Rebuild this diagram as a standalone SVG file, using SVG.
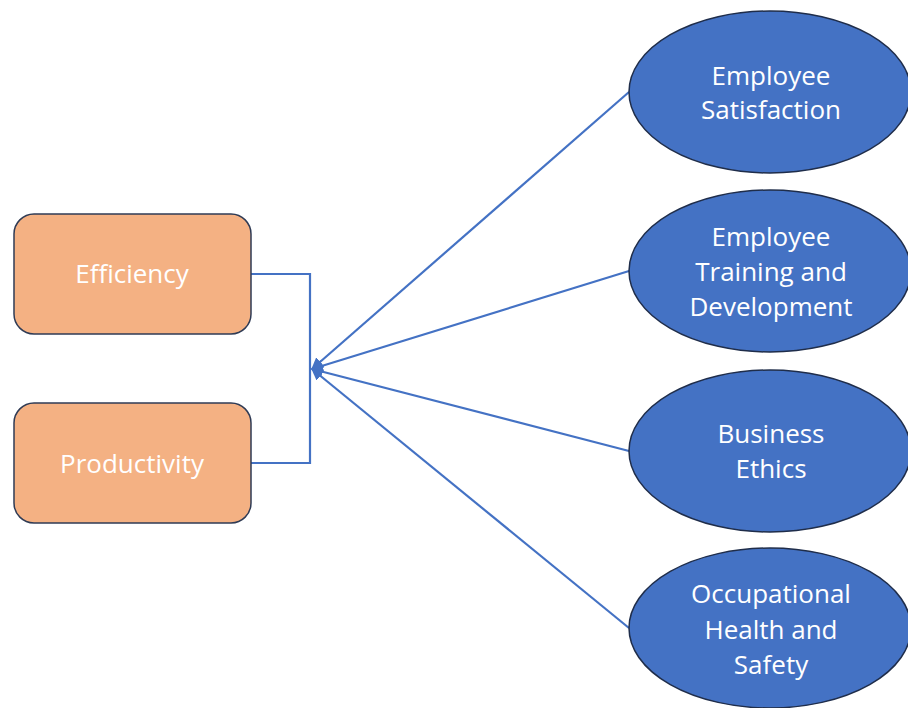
<svg xmlns="http://www.w3.org/2000/svg" width="908" height="708" viewBox="0 0 908 708">
  <style>
    .box { fill: #F4B183; stroke: #2F3B55; stroke-width: 1.5; }
    .oval { fill: #4472C4; stroke: #1F2D4A; stroke-width: 1.5; }
    .label { font-family: "Open Sans", "Liberation Sans", sans-serif; font-size: 26px; fill: #FFFFFF; text-anchor: middle; }
    .link { fill: none; stroke: #4472C4; stroke-width: 2.2; }
  </style>
  <defs>
    <marker id="arrow" viewBox="0 0 10 10" refX="9" refY="5" markerWidth="5.5" markerHeight="5.5" orient="auto" markerUnits="strokeWidth">
      <path d="M0,0 L10,5 L0,10 Z" fill="#4472C4"/>
    </marker>
  </defs>
  <rect width="908" height="708" fill="#FFFFFF"/>

  <g id="connectors">
    <path class="link" d="M251,274 H310 V463 H251"/>
    <line class="link" x1="629" y1="92" x2="312" y2="369" marker-end="url(#arrow)"/>
    <line class="link" x1="629" y1="271" x2="312" y2="369" marker-end="url(#arrow)"/>
    <line class="link" x1="629" y1="451" x2="312" y2="369" marker-end="url(#arrow)"/>
    <line class="link" x1="629" y1="628" x2="312" y2="369" marker-end="url(#arrow)"/>
  </g>

  <g id="efficiency">
    <rect class="box" x="14" y="214" width="237" height="120" rx="20"/>
    <text class="label" x="132" y="283">Efficiency</text>
  </g>
  <g id="productivity">
    <rect class="box" x="14" y="403" width="237" height="120" rx="20"/>
    <text class="label" x="132" y="473">Productivity</text>
  </g>

  <g id="employee-satisfaction">
    <ellipse class="oval" cx="770" cy="92" rx="141" ry="81"/>
    <text class="label" x="771" y="85">Employee</text>
    <text class="label" x="771" y="119">Satisfaction</text>
  </g>
  <g id="employee-training">
    <ellipse class="oval" cx="770" cy="271" rx="141" ry="81"/>
    <text class="label" x="771" y="246">Employee</text>
    <text class="label" x="771" y="281">Training and</text>
    <text class="label" x="771" y="316">Development</text>
  </g>
  <g id="business-ethics">
    <ellipse class="oval" cx="770" cy="451" rx="141" ry="81"/>
    <text class="label" x="771" y="443">Business</text>
    <text class="label" x="771" y="478">Ethics</text>
  </g>
  <g id="occupational-health">
    <ellipse class="oval" cx="770" cy="628" rx="141" ry="80"/>
    <text class="label" x="771" y="603">Occupational</text>
    <text class="label" x="771" y="639">Health and</text>
    <text class="label" x="771" y="674">Safety</text>
  </g>
</svg>
